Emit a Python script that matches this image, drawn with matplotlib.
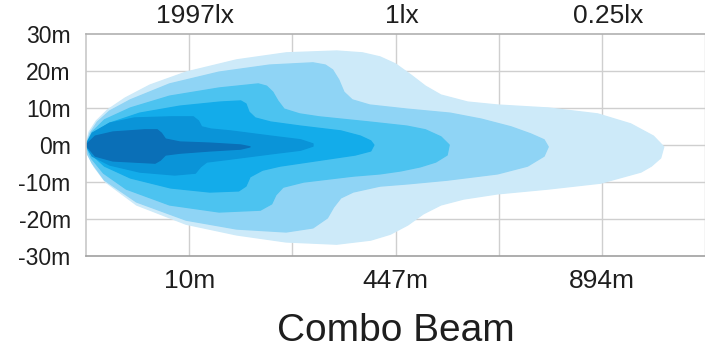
# Combo beam light distribution chart
import matplotlib
matplotlib.use("Agg")
import matplotlib.pyplot as plt

plt.rcParams['font.family'] = ['Liberation Sans', 'DejaVu Sans']

# Axis labels
y_ticks = [-30, -20, -10, 0, 10, 20, 30]
y_labels = ["-30m", "-20m", "-10m", "0m", "10m", "20m", "30m"]
dist_pos = [1, 3, 5]
dist_labels = ["10m", "447m", "894m"]
lux_labels = ["1997lx", "1lx", "0.25lx"]

# Isolux outlines (x in grid units, y in metres), outer to inner
lvl1_x = [0, 0.03, 0.10, 0.21, 0.38, 0.62, 0.97, 1.46, 1.94, 2.43, 2.68, 2.85, 3.00, 3.15, 3.29, 3.44,
          3.70, 3.99, 4.48, 4.96, 5.28, 5.50, 5.60, 5.57, 5.48, 5.38, 4.99, 4.48, 3.99, 3.66, 3.44,
          3.27, 3.12, 2.95, 2.76, 2.43, 1.94, 1.46, 0.97, 0.49, 0.19, 0.08, 0.02]
lvl1_y = [0, 3.5, 6.5, 9.5, 12.7, 16.2, 19.7, 23.0, 24.9, 25.4, 24.9, 23.8, 21.9, 18.9, 15.9, 13.5,
          11.6, 10.8, 10.0, 8.4, 5.7, 2.4, -0.5, -3.5, -5.7, -7.3, -10.3, -11.9, -13.2, -14.6, -16.2,
          -18.6, -21.6, -24.1, -25.7, -26.8, -26.2, -24.3, -21.4, -16.2, -10.0, -5.9, -2.7]

lvl2_x = [0, 0.04, 0.11, 0.23, 0.43, 0.81, 1.29, 1.78, 2.20, 2.32, 2.39, 2.45, 2.50, 2.58, 2.75, 3.11,
          3.53, 3.83, 4.12, 4.31, 4.44, 4.48, 4.44, 4.28, 3.99, 3.50, 3.12, 2.85, 2.59, 2.47, 2.40,
          2.34, 2.20, 1.94, 1.46, 0.97, 0.49, 0.18, 0.06, 0.01]
lvl2_y = [0, 3.2, 6.2, 9.2, 12.2, 16.5, 19.7, 21.6, 22.2, 21.6, 20.3, 17.6, 14.3, 12.2, 10.8, 9.7,
          8.6, 7.0, 4.9, 3.0, 1.4, -0.5, -3.0, -5.7, -7.8, -9.5, -10.5, -11.1, -12.7, -14.3, -16.8,
          -19.7, -22.4, -23.5, -22.7, -20.3, -15.4, -9.5, -4.9, -2.2]

lvl3_x = [0, 0.06, 0.18, 0.43, 0.81, 1.29, 1.67, 1.75, 1.81, 1.86, 1.92, 2.07, 2.26, 2.75, 3.11, 3.29,
          3.44, 3.52, 3.50, 3.39, 3.24, 3.05, 2.85, 2.59, 2.11, 1.91, 1.84, 1.80, 1.69, 1.29, 0.81,
          0.39, 0.17, 0.05]
lvl3_y = [0, 3.5, 6.8, 10.0, 13.2, 15.4, 16.5, 15.9, 14.3, 11.9, 9.7, 8.4, 7.6, 6.2, 5.1, 4.1,
          2.2, 0, -2.7, -4.6, -5.9, -7.0, -7.8, -8.4, -10.0, -11.4, -13.5, -15.9, -17.6, -18.1, -16.2,
          -11.9, -7.6, -3.5]

lvl4_x = [0, 0.09, 0.23, 0.52, 0.91, 1.30, 1.50, 1.55, 1.58, 1.64, 1.79, 2.08, 2.47, 2.66, 2.76, 2.79,
          2.76, 2.61, 2.27, 1.88, 1.71, 1.59, 1.55, 1.48, 1.20, 0.82, 0.43, 0.18, 0.06]
lvl4_y = [0, 3.5, 5.9, 8.6, 10.5, 11.6, 11.9, 11.1, 8.9, 7.3, 6.2, 5.1, 3.8, 2.4, 1.1, 0,
          -1.6, -2.7, -4.1, -5.7, -6.8, -8.6, -11.1, -12.4, -12.7, -11.6, -8.9, -5.7, -2.7]

lvl5_x = [0, 0.06, 0.23, 0.47, 0.82, 1.04, 1.09, 1.12, 1.21, 1.40, 1.79, 2.08, 2.20, 2.20,
          2.08, 1.79, 1.40, 1.17, 1.11, 1.06, 0.86, 0.52, 0.23, 0.06]
lvl5_y = [0, 3.2, 5.9, 7.3, 7.6, 7.6, 6.5, 4.9, 4.3, 3.8, 2.4, 1.4, 0.3, -0.3,
          -1.4, -2.4, -3.8, -4.6, -5.9, -7.6, -8.1, -7.3, -5.4, -3.0]

core_x = [0, 0.09, 0.26, 0.57, 0.69, 0.73, 0.77, 0.91, 1.20, 1.50, 1.59, 1.50, 1.20, 0.91, 0.77,
          0.72, 0.67, 0.26, 0.09]
core_y = [0, 2.4, 3.5, 4.1, 4.1, 3.2, 1.6, 0.8, 0.5, 0, -0.5, -1.1, -1.6, -2.2, -2.7,
          -4.1, -4.9, -4.3, -3.0]

shapes = [(lvl1_x, lvl1_y), (lvl2_x, lvl2_y), (lvl3_x, lvl3_y),
          (lvl4_x, lvl4_y), (lvl5_x, lvl5_y), (core_x, core_y)]
colors = ["#cdeaf9", "#8fd4f5", "#4cc3f0", "#13acea", "#0a94d8", "#0a6fb7"]

fig = plt.figure(figsize=(7.05, 3.51), dpi=100)
ax = fig.add_axes([86 / 705, 95 / 351, 619 / 705, 222 / 351])

for (xs, ys), c in zip(shapes, colors):
    # same-colour edge with round joins softens the corners a little
    ax.fill(xs, ys, facecolor=c, edgecolor=c, lw=1.0, joinstyle="round", zorder=2)

ax.set_xlim(0, 6)
ax.set_ylim(-30, 30)

# Grid
for gx in range(1, 7):
    ax.axvline(gx, color="#cfcfcf", lw=1, zorder=1)
for gy in y_ticks[1:-1]:
    ax.axhline(gy, color="#cfcfcf", lw=1, zorder=1)

ax.spines["right"].set_visible(False)
ax.spines["top"].set_color("#b0b0b0")
ax.spines["bottom"].set_color("#a0a0a0")
ax.spines["left"].set_color("#c8c8c8")
for s in ["top", "bottom", "left"]:
    ax.spines[s].set_linewidth(1.2)

ax.set_yticks(y_ticks)
ax.set_yticklabels(y_labels, fontsize=16.5, color="#1e1e1e")
ax.set_xticks(dist_pos)
ax.set_xticklabels(dist_labels, fontsize=19, color="#1e1e1e")
ax.tick_params(axis="y", length=0, pad=11)
ax.tick_params(axis="x", length=0, pad=9)

for xp, lab in zip(dist_pos, lux_labels):
    ax.text(xp + 0.06, 31.5, lab, fontsize=19, color="#1e1e1e", ha="center", va="bottom")

fig.text(0.561, 2 / 351, "Combo Beam", fontsize=28, color="#1e1e1e", ha="center", va="bottom")

fig.savefig("out.png", dpi=100)
